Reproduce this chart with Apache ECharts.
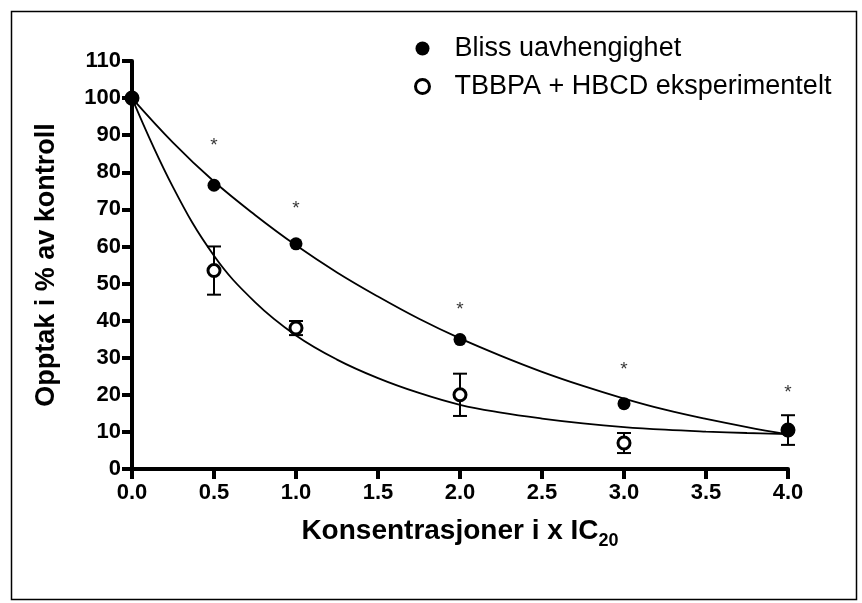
<!DOCTYPE html>
<html><head><meta charset="utf-8">
<script src="https://cdn.jsdelivr.net/npm/echarts@6/dist/echarts.min.js"></script>
<style>html,body{margin:0;padding:0;background:#fff}#c{width:862px;height:603px}</style>
</head><body><div id="c"></div>
<script>
// measured points
const xValues = [0, 0.5, 1, 2, 3, 4];
const blissValues = [100, 76.5, 60.7, 34.9, 17.6, 10.3];
const expValues = [100, 53.5, 38.0, 20.0, 7.0, 10.5];
const expErrors = [0, 6.5, 1.9, 5.7, 2.7, 4.0];
// significance stars
const starX = [0.5, 1, 2, 3, 4];
const starY = [88.4, 71.6, 44.3, 28.0, 22.0];
// fitted curves at 0.25 steps
const curveX = [0, 0.25, 0.5, 0.75, 1, 1.25, 1.5, 1.75, 2, 2.25, 2.5, 2.75, 3, 3.25, 3.5, 3.75, 4];
const blissCurve = [100, 88, 77.5, 68.5, 60.3, 53, 46.5, 40.5, 35.2, 30.5, 26.2, 22.4, 19, 16, 13.5, 11.3, 9.3];
const expCurve = [100, 76, 57.5, 45, 36, 29.5, 24.5, 20.5, 17.3, 15.2, 13.6, 12.3, 11.3, 10.6, 10.1, 9.7, 9.4];
const legendNames = ['Bliss uavhengighet', 'TBBPA + HBCD eksperimentelt'];
const xAxisTitle = 'Konsentrasjoner i x IC';
const xAxisSub = '20';
const yAxisTitle = 'Opptak i % av kontroll';

const FONT = "'Liberation Sans', Arial, sans-serif";
const zip = (a, b) => a.map((v, i) => [v, b[i]]);

const chart = echarts.init(document.getElementById('c'), null, {renderer: 'canvas'});
chart.setOption({
  animation: false,
  backgroundColor: '#fff',
  graphic: [{
    type: 'rect', left: 9, top: 9, z: -1,
    shape: {width: 845, height: 588},
    style: {fill: 'none', stroke: '#000', lineWidth: 1.5}
  }],
  grid: {left: 132, right: 74, top: 61, bottom: 134, containLabel: false},
  legend: {
    orient: 'vertical', left: 409, top: 30, itemWidth: 54, itemHeight: 14, itemGap: 11,
    textStyle: {fontFamily: FONT, fontSize: 27, color: '#000'},
    data: [
      {name: legendNames[0], icon: 'circle', itemStyle: {color: '#000', borderWidth: 0}},
      {name: legendNames[1], icon: 'circle', itemStyle: {color: '#fff', borderColor: '#000', borderWidth: 3}}
    ]
  },
  xAxis: {
    type: 'value', min: 0, max: 4, interval: 0.5,
    name: '{a|' + xAxisTitle + '}{s|' + xAxisSub + '}',
    nameLocation: 'middle', nameGap: 44,
    nameTextStyle: {
      rich: {
        a: {fontFamily: FONT, fontWeight: 'bold', fontSize: 28, color: '#000', lineHeight: 37, verticalAlign: 'middle'},
        s: {fontFamily: FONT, fontWeight: 'bold', fontSize: 18, color: '#000', lineHeight: 18, verticalAlign: 'bottom'}
      }
    },
    axisLine: {show: true, onZero: false, lineStyle: {color: '#000', width: 4}},
    axisTick: {show: true, inside: false, length: 10, lineStyle: {color: '#000', width: 4}},
    axisLabel: {fontFamily: FONT, fontWeight: 'bold', fontSize: 22, color: '#000', margin: 13,
      formatter: v => v.toFixed(1)},
    splitLine: {show: false}
  },
  yAxis: {
    type: 'value', min: 0, max: 110, interval: 10,
    name: yAxisTitle, nameLocation: 'middle', nameGap: 72, nameRotate: 90,
    nameTextStyle: {fontFamily: FONT, fontWeight: 'bold', fontSize: 27, color: '#000'},
    axisLine: {show: true, onZero: false, lineStyle: {color: '#000', width: 4}},
    axisTick: {show: true, inside: false, length: 10, lineStyle: {color: '#000', width: 4}},
    axisLabel: {fontFamily: FONT, fontWeight: 'bold', fontSize: 22, color: '#000', margin: 11},
    splitLine: {show: false}
  },
  series: [
    {
      name: 'blissCurve', type: 'line', data: zip(curveX, blissCurve), smooth: 0.4,
      showSymbol: false, symbol: 'none', lineStyle: {color: '#000', width: 1.8}, z: 2, silent: true
    },
    {
      name: 'expCurve', type: 'line', data: zip(curveX, expCurve), smooth: 0.4,
      showSymbol: false, symbol: 'none', lineStyle: {color: '#000', width: 1.8}, z: 2, silent: true
    },
    {
      name: 'errors', type: 'custom', z: 3,
      data: xValues.map((x, i) => [x, expValues[i], expErrors[i]]),
      renderItem: function (params, api) {
        const x = api.value(0), y = api.value(1), e = api.value(2);
        if (!e) return null;
        const top = api.coord([x, y + e]);
        const bot = api.coord([x, y - e]);
        const w = 7;
        const st = {stroke: '#000', lineWidth: 2};
        return {type: 'group', children: [
          {type: 'line', shape: {x1: top[0], y1: top[1], x2: bot[0], y2: bot[1]}, style: st},
          {type: 'line', shape: {x1: top[0] - w, y1: top[1], x2: top[0] + w, y2: top[1]}, style: st},
          {type: 'line', shape: {x1: bot[0] - w, y1: bot[1], x2: bot[0] + w, y2: bot[1]}, style: st}
        ]};
      }
    },
    {
      name: legendNames[1], type: 'scatter', data: zip(xValues, expValues), z: 4,
      symbol: 'circle', symbolSize: 12,
      itemStyle: {color: '#fff', borderColor: '#000', borderWidth: 3, opacity: 1}
    },
    {
      name: legendNames[0], type: 'scatter', data: zip(xValues, blissValues), z: 5,
      symbol: 'circle', symbolSize: 13,
      itemStyle: {color: '#000', opacity: 1}
    },
    {
      name: 'stars', type: 'scatter', data: zip(starX, starY), z: 6,
      symbol: 'circle', symbolSize: 1, itemStyle: {color: 'rgba(0,0,0,0)'},
      label: {show: true, position: 'inside', formatter: '*', fontFamily: FONT, fontSize: 19, color: '#000', offset: [0, 5]}
    }
  ]
});
</script>
</body></html>
